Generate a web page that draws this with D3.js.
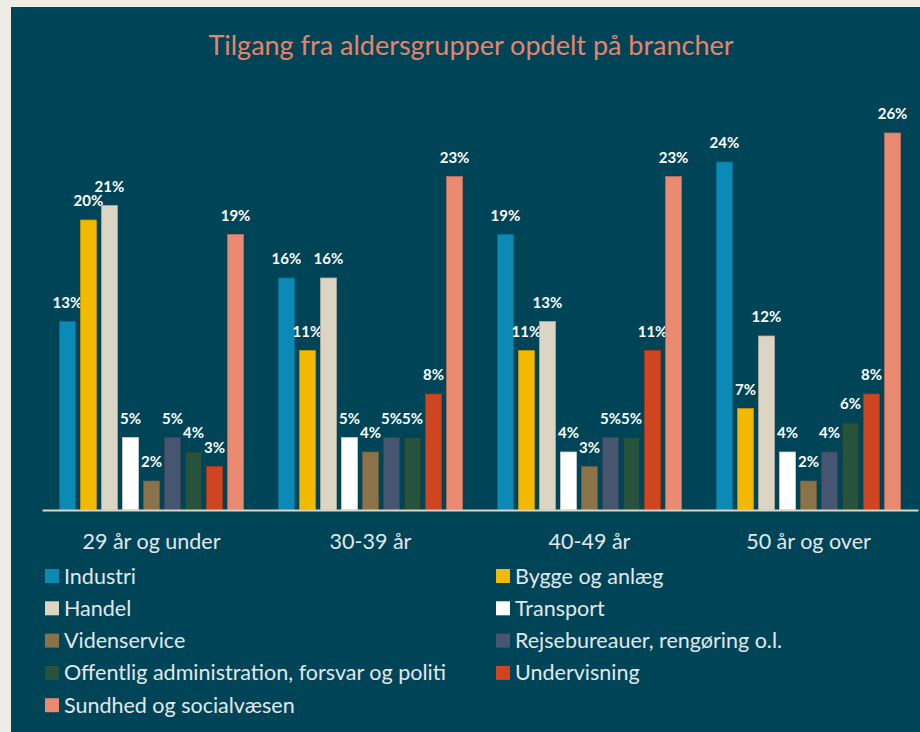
<!DOCTYPE html>
<html>
<head>
<meta charset="utf-8">
<script src="https://cdn.jsdelivr.net/npm/d3@7"></script>
<style>
  body { margin: 0; background: #efebe5; }
  svg { display: block; }
  text { font-family: Lato, "Open Sans", sans-serif; }
</style>
</head>
<body>
<svg id="chart"></svg>
<script>
const groups = ['29 år og under', '30-39 år', '40-49 år', '50 år og over'];
const series = ['Industri', 'Bygge og anlæg', 'Handel', 'Transport', 'Videnservice',
    'Rejsebureauer, rengøring o.l.', 'Offentlig administration, forsvar og politi',
    'Undervisning', 'Sundhed og socialvæsen'];
const colors = ['#0b8ab5', '#f2b900', '#ddd5c4', '#ffffff', '#8a7349',
    '#475670', '#27533d', '#cf4520', '#ea8a71'];
// one row per series, one value per age group (percent)
const industri = [13, 16, 19, 24];
const bygge = [20, 11, 11, 7];
const handel = [21, 16, 13, 12];
const transport = [5, 5, 4, 4];
const viden = [2, 4, 3, 2];
const rejse = [5, 5, 5, 4];
const offentlig = [4, 5, 5, 6];
const undervisning = [3, 8, 11, 8];
const sundhed = [19, 23, 23, 26];
const values = [industri, bygge, handel, transport, viden, rejse, offentlig, undervisning, sundhed];

const width = 920;
const height = 732;
const baseY = 510;

const chart = d3.select('#chart')
    .attr('width', width)
    .attr('height', height);

chart.append('rect')
    .attr('x', 11)
    .attr('y', 7)
    .attr('width', width - 11)
    .attr('height', height - 7)
    .attr('fill', '#004458');

chart.append('text')
    .attr('x', 471)
    .attr('y', 55)
    .attr('text-anchor', 'middle')
    .attr('fill', '#e8836a')
    .style('font-size', '27px')
    .text('Tilgang fra aldersgrupper opdelt på brancher');

const x0 = d3.scaleBand()
    .domain(groups)
    .range([42, 918]);

const x1 = d3.scaleBand()
    .domain(series)
    .range([0, x0.bandwidth()])
    .paddingInner(0.24)
    .paddingOuter(0.83);

const y = d3.scaleLinear()
    .domain([0, 26])
    .range([baseY, 133]);

const data = [];
groups.forEach(function(g, gi) {
    series.forEach(function(s, si) {
        data.push({group: g, series: s, index: si, value: values[si][gi]});
    });
});

const bars = chart.append('g')
    .selectAll('g')
    .data(data)
    .enter()
    .append('g')
    .attr('transform', function(d) {
        return 'translate(' + (x0(d.group) + x1(d.series)) + ',0)';
    });

bars.append('rect')
    .attr('x', 0)
    .attr('y', function(d) { return y(d.value); })
    .attr('width', x1.bandwidth())
    .attr('height', function(d) { return baseY - y(d.value); })
    .attr('fill', function(d) { return colors[d.index]; })
    .attr('stroke', function(d) { return d3.color(colors[d.index]).darker(0.6); })
    .attr('stroke-width', 0.8);

bars.append('text')
    .attr('x', x1.bandwidth() / 2)
    .attr('y', function(d) { return y(d.value) - 14; })
    .attr('text-anchor', 'middle')
    .attr('fill', '#ffffff')
    .style('font-size', '15px')
    .style('font-weight', 'bold')
    .text(function(d) { return d.value + '%'; });

const axis = chart.append('g')
    .attr('transform', 'translate(0,' + baseY + ')')
    .call(d3.axisBottom(x0).tickSize(0).tickPadding(24));

axis.select('.domain')
    .attr('stroke', '#ddd5c4')
    .attr('stroke-width', 2);

axis.selectAll('text')
    .attr('fill', '#e2e8ea')
    .style('font-size', '21.5px')
    .style('font-family', 'Lato, "Open Sans", sans-serif');

const legend = chart.append('g')
    .selectAll('g')
    .data(series)
    .enter()
    .append('g')
    .attr('transform', function(d, i) {
        return 'translate(' + (i % 2 === 0 ? 45 : 496) + ',' + (576 + Math.floor(i / 2) * 32.3) + ')';
    });

legend.append('rect')
    .attr('x', 0)
    .attr('y', -7)
    .attr('width', 14)
    .attr('height', 14)
    .attr('fill', function(d, i) { return colors[i]; });

legend.append('text')
    .attr('x', 19)
    .attr('y', 0)
    .attr('dy', '.35em')
    .attr('fill', '#e2e8ea')
    .style('font-size', '21.5px')
    .text(function(d) { return d; });
</script>
</body>
</html>
